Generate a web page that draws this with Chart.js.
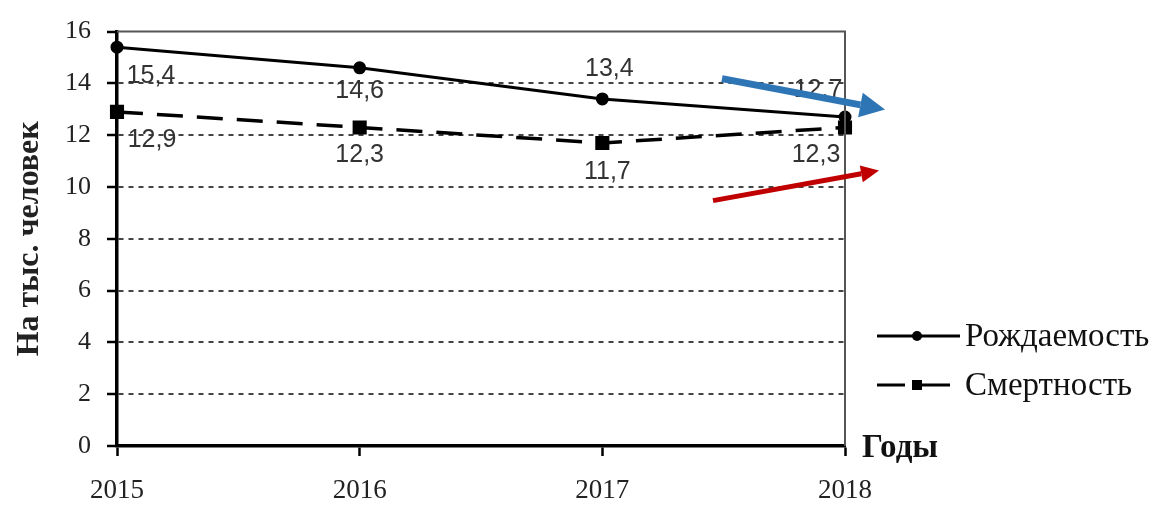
<!DOCTYPE html>
<html>
<head>
<meta charset="utf-8">
<script src="https://cdn.jsdelivr.net/npm/chart.js@4/dist/chart.umd.min.js"></script>
<style>
  html, body { margin: 0; padding: 0; background: #fff; }
  #wrap { width: 1153px; height: 505px; }
</style>
</head>
<body>
<div id="wrap"><canvas id="c" width="1153" height="505"></canvas></div>
<script>
'use strict';

/* ── Data ─────────────────────────────────────────────────────────────── */
const years  = ['2015', '2016', '2017', '2018'];
const births = [15.4, 14.6, 13.4, 12.7];   // Рождаемость
const deaths = [12.9, 12.3, 11.7, 12.3];   // Смертность
const yTicks = [0, 2, 4, 6, 8, 10, 12, 14, 16];

const SERIF = '"Liberation Serif", "Times New Roman", serif';
const SANS  = '"Liberation Sans", Arial, sans-serif';

/* ── Value labels, legend, frame, arrows ──────────────────────────────── */
const decor = {
  id: 'decor',
  afterDatasetsDraw(chart, args, opts) {
    const { ctx, chartArea: a } = chart;
    ctx.save();

    // thin frame on top and right
    ctx.strokeStyle = '#555';
    ctx.lineWidth = 2;
    ctx.beginPath();
    ctx.moveTo(a.left, a.top);
    ctx.lineTo(a.right, a.top);
    ctx.lineTo(a.right, a.bottom);
    ctx.stroke();

    // value labels
    ctx.font = '25px ' + SANS;
    ctx.fillStyle = '#333';
    ctx.textAlign = 'center';
    ctx.textBaseline = 'middle';
    chart.data.datasets.forEach((ds, di) => {
      const meta = chart.getDatasetMeta(di);
      meta.data.forEach((pt, i) => {
        const [dx, dy] = opts.offsets[di][i];
        ctx.fillText(ds.data[i].toFixed(1).replace('.', ','), pt.x + dx, pt.y + dy);
      });
    });
    ctx.restore();
  },
  afterDraw(chart) {
    const { ctx, chartArea: a } = chart;
    ctx.save();

    // "Годы"
    ctx.font = 'bold 33px ' + SERIF;
    ctx.fillStyle = '#111';
    ctx.textAlign = 'left';
    ctx.textBaseline = 'alphabetic';
    ctx.fillText('Годы', a.right + 17, a.bottom + 11);

    // legend
    const lx = a.right + 32;
    chart.data.datasets.forEach((ds, di) => {
      const y = a.bottom - 110 + di * 49;
      ctx.strokeStyle = '#000';
      ctx.fillStyle = '#000';
      ctx.lineWidth = 3;
      ctx.beginPath();
      if (ds.borderDash && ds.borderDash.length) {
        ctx.moveTo(lx, y); ctx.lineTo(lx + 28, y);
        ctx.moveTo(lx + 45, y); ctx.lineTo(lx + 73, y);
      } else {
        ctx.moveTo(lx, y); ctx.lineTo(lx + 83, y);
      }
      ctx.stroke();
      if (ds.pointStyle === 'rect') {
        ctx.fillRect(lx + 35, y - 5, 10, 10);
      } else {
        ctx.beginPath();
        ctx.arc(lx + 40, y, 5, 0, Math.PI * 2);
        ctx.fill();
      }
      ctx.font = '33px ' + SERIF;
      ctx.fillStyle = '#111';
      ctx.textBaseline = 'middle';
      ctx.fillText(ds.label, lx + 88, y + 1);
    });

    // arrows
    arrow(ctx, a.right - 123, a.top + 47, a.right + 40, a.top + 78, '#2e75b6', 7, 25, 25);
    arrow(ctx, a.right - 132, a.top + 169, a.right + 34, a.top + 139, '#c00000', 5, 18, 17);
    ctx.restore();
  },
};

function arrow(ctx, x1, y1, x2, y2, color, w, headLen, headW) {
  const ang = Math.atan2(y2 - y1, x2 - x1);
  const bx = x2 - headLen * Math.cos(ang);
  const by = y2 - headLen * Math.sin(ang);
  ctx.strokeStyle = color;
  ctx.fillStyle = color;
  ctx.lineWidth = w;
  ctx.lineCap = 'butt';
  ctx.beginPath();
  ctx.moveTo(x1, y1);
  ctx.lineTo(bx, by);
  ctx.stroke();
  const nx = -Math.sin(ang) * headW / 2;
  const ny =  Math.cos(ang) * headW / 2;
  ctx.beginPath();
  ctx.moveTo(x2, y2);
  ctx.lineTo(bx + nx, by + ny);
  ctx.lineTo(bx - nx, by - ny);
  ctx.closePath();
  ctx.fill();
}

/* ── Chart ────────────────────────────────────────────────────────────── */
new Chart(document.getElementById('c').getContext('2d'), {
  type: 'line',
  data: {
    labels: years,
    datasets: [
      {
        label: 'Рождаемость',
        data: births,
        borderColor: '#000',
        backgroundColor: '#000',
        borderWidth: 3,
        pointStyle: 'circle',
        pointRadius: 5,
        tension: 0,
        clip: false,
      },
      {
        label: 'Смертность',
        data: deaths,
        borderColor: '#000',
        backgroundColor: '#000',
        borderWidth: 3.5,
        borderDash: [26, 14],
        pointStyle: 'rect',
        pointRadius: 7.5,
        tension: 0,
        clip: false,
      },
    ],
  },
  options: {
    responsive: false,
    animation: false,
    layout: { padding: { top: 25, right: 308, bottom: 0, left: 0 } },
    plugins: {
      legend: { display: false },
      tooltip: { enabled: false },
      decor: {
        offsets: [
          [[34, 29], [0, 23], [7, -30], [-27, -27]],
          [[35, 28], [0, 28], [5, 29], [-29, 28]],
        ],
      },
    },
    scales: {
      x: {
        type: 'category',
        offset: false,
        grid: { drawOnChartArea: false, tickLength: 10, tickColor: '#000', tickWidth: 2.5 },
        border: { color: '#000', width: 3.5 },
        ticks: { color: '#222', padding: 19, maxRotation: 0, font: { family: SERIF, size: 27 } },
        afterFit: s => { s.height = 59; },
      },
      y: {
        min: 0,
        max: 16,
        afterBuildTicks: s => { s.ticks = yTicks.map(v => ({ value: v })); },
        grid: {
          color: c => (c.tick && c.tick.value === 16 ? 'rgba(0,0,0,0)' : '#444'),
          lineWidth: 2,
          tickLength: 10,
          tickColor: '#000',
          tickWidth: 2.5,
        },
        border: { color: '#000', width: 3.5, dash: [5, 5] },
        ticks: { color: '#222', padding: 16, font: { family: SERIF, size: 26 } },
        title: {
          display: true,
          text: 'На тыс. человек',
          color: '#222',
          font: { family: SERIF, size: 32, weight: 'bold' },
          padding: { top: 11, bottom: 0 },
        },
        afterFit: s => { s.width = 117; },
      },
    },
  },
  plugins: [decor],
});
</script>
</body>
</html>
